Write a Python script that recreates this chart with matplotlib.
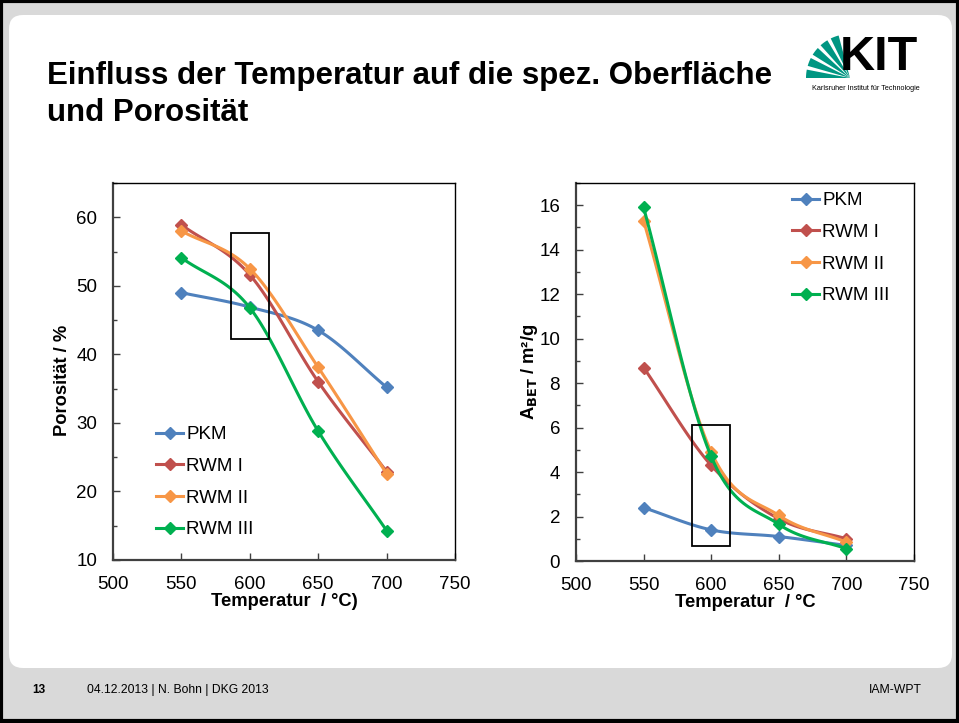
import numpy as np
import matplotlib
matplotlib.use("Agg")
import matplotlib.pyplot as plt
from matplotlib.patches import Rectangle, FancyBboxPatch
from matplotlib.ticker import MultipleLocator

plt.rcParams['font.family'] = ['Liberation Sans', 'DejaVu Sans']

# ---------------- data ----------------
temps = [550, 600, 650, 700]
series_names = ["PKM", "RWM I", "RWM II", "RWM III"]
colors = ["#4F81BD", "#C0504D", "#F79646", "#00B050"]

poro_pkm = [49.0, 46.9, 43.5, 35.2]
poro_rwm1 = [58.9, 51.6, 36.0, 22.9]
poro_rwm2 = [58.0, 52.5, 38.1, 22.6]
poro_rwm3 = [54.1, 46.8, 28.8, 14.3]

bet_pkm = [2.4, 1.4, 1.1, 0.7]
bet_rwm1 = [8.7, 4.3, 1.9, 1.0]
bet_rwm2 = [15.3, 4.9, 2.05, 0.85]
bet_rwm3 = [15.9, 4.7, 1.65, 0.55]

x_ticks = [500, 550, 600, 650, 700, 750]
poro_ticks = [10, 20, 30, 40, 50, 60]
bet_ticks = [0, 2, 4, 6, 8, 10, 12, 14, 16]

W, H = 959, 723
fig = plt.figure(figsize=(W / 100, H / 100), dpi=100)
fig.patch.set_facecolor("#d9d9d9")


def fx(px):
    return px / W


def fy(py):
    return 1 - py / H


# slide background
bg = fig.add_axes([0, 0, 1, 1])
bg.set_xlim(0, W)
bg.set_ylim(H, 0)
bg.axis("off")
bg.add_patch(FancyBboxPatch((9, 15), 943, 653, boxstyle="round,pad=0,rounding_size=14",
                            facecolor="white", edgecolor="none"))
bg.add_patch(Rectangle((1, 1), W - 2, H - 3, fill=False, edgecolor="black", lw=3))

# title
fig.text(fx(47), fy(76), "Einfluss der Temperatur auf die spez. Oberfläche",
         fontsize=22.5, fontweight="bold", va="center", ha="left")
fig.text(fx(47), fy(113), "und Porosität", fontsize=22.5, fontweight="bold",
         va="center", ha="left")

# KIT logo
cx, cy = 850, 78
angles = [(180, 169), (164, 153), (148, 137), (132, 121), (116, 105)]
for a1, a2 in angles:
    t = np.radians(np.linspace(a2, a1, 12))
    r = 44
    xs = [cx] + list(cx + r * np.cos(t)) + [cx]
    ys = [cy] + list(cy - r * np.sin(t)) + [cy]
    bg.fill(xs, ys, color="#009682", lw=0, zorder=1)
bg.add_patch(Rectangle((840, 80), 20, 10, facecolor="white", edgecolor="none", zorder=2))
bg.text(840, 58, "KIT", fontsize=35, fontweight="bold", ha="left", va="center",
        color="black", zorder=3)
bg.text(866, 88, "Karlsruher Institut für Technologie", fontsize=5.2, ha="center",
        va="center", color="black", zorder=3)

# footer
fig.text(fx(32), fy(690), "13", fontsize=8.5, fontweight="bold", va="center")
fig.text(fx(87), fy(690), "04.12.2013 | N. Bohn | DKG 2013", fontsize=8.75, va="center")
fig.text(fx(922), fy(690), "IAM-WPT", fontsize=8.8, va="center", ha="right")


def smooth(x, y, n=30):
    x = np.asarray(x, float)
    y = np.asarray(y, float)
    px = np.concatenate([[2 * x[0] - x[1]], x, [2 * x[-1] - x[-2]]])
    py = np.concatenate([[2 * y[0] - y[1]], y, [2 * y[-1] - y[-2]]])
    ox, oy = [], []
    for i in range(1, len(px) - 2):
        t = np.linspace(0, 1, n)
        for arr, out in ((px, ox), (py, oy)):
            p0, p1, p2, p3 = arr[i - 1], arr[i], arr[i + 1], arr[i + 2]
            c1 = p1 + (p2 - p0) / 6
            c2 = p2 - (p3 - p1) / 6
            out.extend((1 - t) ** 3 * p1 + 3 * (1 - t) ** 2 * t * c1
                       + 3 * (1 - t) * t ** 2 * c2 + t ** 3 * p2)
    return np.array(ox), np.array(oy)


def style_axes(ax, ylim, yticks, yminor):
    ax.set_xlim(500, 750)
    ax.set_ylim(*ylim)
    ax.set_xticks(x_ticks)
    ax.set_yticks(yticks)
    ax.yaxis.set_minor_locator(MultipleLocator(yminor))
    ax.tick_params(axis="both", which="major", direction="in", length=5, width=1,
                   labelsize=13.5, color="#404040")
    ax.tick_params(axis="y", which="minor", direction="in", length=3, width=1,
                   color="#404040")
    ax.tick_params(axis="x", which="major", pad=11.5)
    ax.tick_params(axis="y", which="major", pad=11.5)
    ax.tick_params(top=False, right=False)
    for s in ["left", "bottom"]:
        ax.spines[s].set_linewidth(1.6)
        ax.spines[s].set_color("#404040")
    for s in ["top", "right"]:
        ax.spines[s].set_linewidth(1.0)
        ax.spines[s].set_color("black")


leg_kw = dict(frameon=False, fontsize=13.5, handlelength=1.45, handletextpad=0.15,
              labelspacing=0.78, borderaxespad=0, borderpad=0,
              bbox_transform=fig.transFigure)

# left chart
ax1 = fig.add_axes([fx(113), fy(560), fx(455) - fx(113), fy(183) - fy(560)])
for name, vals, c in zip(series_names, [poro_pkm, poro_rwm1, poro_rwm2, poro_rwm3], colors):
    sx, sy = smooth(temps, vals)
    ax1.plot(sx, sy, color=c, lw=2.2, solid_capstyle="round")
    ax1.plot(temps, vals, ls="none", marker="D", ms=6.5, color=c, mec=c)
    ax1.plot([], [], color=c, lw=2.2, marker="D", ms=6.5, label=name)
style_axes(ax1, (10, 65), poro_ticks, 5)
ax1.set_xlabel("Temperatur  / °C)", fontsize=13.2, fontweight="bold")
ax1.xaxis.set_label_coords(0.5, -0.088)
ax1.set_ylabel("Porosität / %", fontsize=13.2, fontweight="bold")
ax1.yaxis.set_label_coords(-0.122, 0.477)
ax1.add_patch(Rectangle((586, 42.2), 28, 15.5, fill=False, edgecolor="black", lw=1.3, zorder=5))
ax1.legend(loc="upper left", bbox_to_anchor=(fx(156), fy(426)), **leg_kw)

# right chart
ax2 = fig.add_axes([fx(576), fy(561), fx(914) - fx(576), fy(183) - fy(561)])
for name, vals, c in zip(series_names, [bet_pkm, bet_rwm1, bet_rwm2, bet_rwm3], colors):
    sx, sy = smooth(temps, vals)
    ax2.plot(sx, sy, color=c, lw=2.2, solid_capstyle="round")
    ax2.plot(temps, vals, ls="none", marker="D", ms=6.5, color=c, mec=c)
    ax2.plot([], [], color=c, lw=2.2, marker="D", ms=6.5, label=name)
style_axes(ax2, (0, 17), bet_ticks, 1)
ax2.set_xlabel("Temperatur  / °C", fontsize=13.2, fontweight="bold")
ax2.xaxis.set_label_coords(0.5, -0.088)
ax2.set_ylabel(r"A$_{\mathbf{BET}}$ / m²/g", fontsize=13.2, fontweight="bold")
ax2.yaxis.set_label_coords(-0.107, 0.5)
ax2.add_patch(Rectangle((586, 0.69), 28, 5.44, fill=False, edgecolor="black", lw=1.3, zorder=5))
ax2.legend(loc="upper left", bbox_to_anchor=(fx(792), fy(192)), **leg_kw)

fig.savefig("out.png", dpi=100)
